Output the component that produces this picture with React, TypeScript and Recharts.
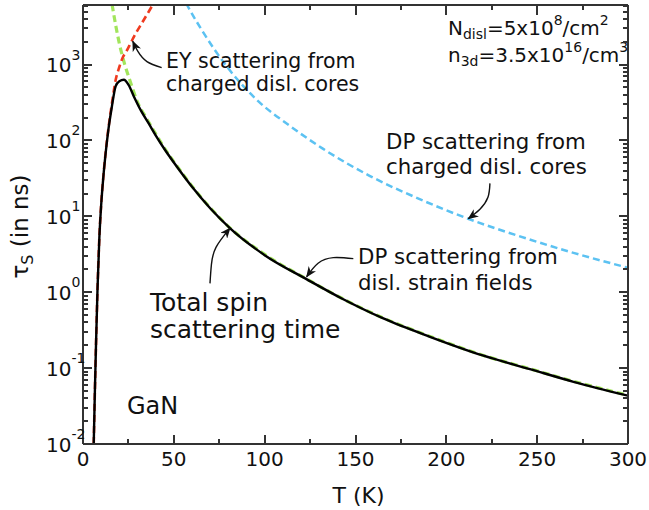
import React from 'react';
import { LineChart, Line, XAxis, YAxis, ReferenceDot, Customized } from 'recharts';

const FONT = '"DejaVu Sans", Verdana, sans-serif';
const AXIS = '#333333';
const INK = '#111111';
const BLUE = '#5cc2f2';
const GREEN = '#a2e55c';
const RED = '#ef3a1f';

// ---- data ----
// DP scattering from charged dislocation cores
const dpCoresT = [54, 57, 65, 79, 95, 114, 132, 158, 185, 212, 240, 270, 300];
const dpCoresTau = [8700, 6300, 2950, 955, 355, 155, 78, 34, 17, 9.3, 5.5, 3.3, 2.1];

// DP scattering from dislocation strain fields
const dpStrainT = [15, 16, 18, 20, 23, 26, 30, 35, 40, 45, 52, 60, 70, 81, 100, 123, 143, 165, 191, 220, 246, 270, 300];
const dpStrainTau = [8700, 6200, 3300, 1900, 1000, 600, 320, 195, 122, 78, 45, 25, 13, 7.0, 3.15, 1.5, 0.82, 0.46, 0.262, 0.148, 0.098, 0.067, 0.044];

// EY scattering from charged dislocation cores
const eyCoresT = [5.9, 6.5, 7.2, 8.0, 9.0, 10.0, 11.2, 12.5, 14.0, 15.8, 18, 20, 22, 24, 26.6, 29, 32, 35, 38.5, 42];
const eyCoresTau = [0.01, 0.045, 0.224, 1.13, 5.3, 14.3, 33.5, 71, 145, 295, 630, 930, 1260, 1510, 2000, 2570, 3390, 4470, 6170, 8300];

// Total spin scattering time
const totalT = [5.6, 5.9, 6.5, 7.2, 8.0, 9.0, 10.0, 11.2, 12.5, 14.0, 15.8, 18, 20, 22.5, 25, 28, 32, 36, 40, 45, 52, 60, 70, 81, 100, 123, 143, 165, 191, 220, 246, 270, 300];
const totalTau = [0.0048, 0.01, 0.045, 0.224, 1.12, 5.2, 14.1, 33, 69, 140, 270, 520, 605, 632, 545, 380, 245, 170, 117, 76, 44, 24.5, 12.8, 6.95, 3.08, 1.49, 0.815, 0.455, 0.259, 0.147, 0.097, 0.066, 0.0433];

// annotation arrows (T, tau)
const arrowEYT = [43.3, 35.2, 30.3, 27.4];
const arrowEYTau = [912, 1096, 1480, 2030];
const arrowCoresT = [224, 222.9, 218.5, 212.1];
const arrowCoresTau = [27.2, 17.8, 12.4, 9.33];
const arrowStrainT = [148.8, 137.8, 129.4, 123.1];
const arrowStrainTau = [2.77, 2.86, 2.41, 1.6];
const arrowTotalT = [69.9, 70.7, 73.2, 80.9];
const arrowTotalTau = [1.31, 2.33, 3.91, 7.0];

// ticks
const xMajorTicks = [0, 50, 100, 150, 200, 250, 300];
const xMinorTicks = [25, 75, 125, 175, 225, 275];
const yMajorTicks = [0.01, 0.1, 1, 10, 100, 1000];
const yMinorMultipliers = [2, 3, 4, 5, 6, 7, 8, 9];
const Y_MAX = 6100;

const xTicksAll = [...xMajorTicks, ...xMinorTicks].sort((a, b) => a - b);
const yMinorTicks = yMajorTicks
  .flatMap((d) => yMinorMultipliers.map((m) => Number((d * m).toPrecision(3))))
  .filter((v) => v <= Y_MAX);
const yTicksAll = [...yMajorTicks, ...yMinorTicks].sort((a, b) => a - b);

const zip = (ts: number[], vs: number[]) => ts.map((t, i) => ({ T: t, tau: vs[i] }));

const dpCores = zip(dpCoresT, dpCoresTau);
const dpStrain = zip(dpStrainT, dpStrainTau);
const eyCores = zip(eyCoresT, eyCoresTau);
const total = zip(totalT, totalTau);
const arrowEY = zip(arrowEYT, arrowEYTau);
const arrowCores = zip(arrowCoresT, arrowCoresTau);
const arrowStrain = zip(arrowStrainT, arrowStrainTau);
const arrowTotal = zip(arrowTotalT, arrowTotalTau);

const isMajorX = (v: number) => v % 50 === 0;
const isMajorY = (v: number) => Math.abs(Math.log10(v) - Math.round(Math.log10(v))) < 1e-6;

const TW = 2; // tick thickness (px), snapped to the pixel grid

function vTick(x: number, yFrom: number, len: number) {
  const top = len >= 0 ? yFrom : yFrom + len;
  return <rect x={Math.round(x) - TW / 2} y={Math.round(top)} width={TW} height={Math.abs(len)} fill={AXIS} shapeRendering="crispEdges" />;
}
function hTick(xFrom: number, y: number, len: number) {
  const left = len >= 0 ? xFrom : xFrom + len;
  return <rect x={Math.round(left)} y={Math.round(y) - TW / 2} width={Math.abs(len)} height={TW} fill={AXIS} shapeRendering="crispEdges" />;
}

function BottomTick(props: any) {
  const { x, y, payload } = props;
  const v = payload.value;
  const major = isMajorX(v);
  const axisY = y - 8;
  return (
    <g>
      {vTick(x, axisY, -(major ? 9 : 5))}
      {major && (
        <text x={x} y={y} dy="0.71em" textAnchor="middle" fontFamily={FONT} fontSize={20} fill={INK}>
          {v}
        </text>
      )}
    </g>
  );
}

function TopTick(props: any) {
  const { x, y, payload } = props;
  const major = isMajorX(payload.value);
  return vTick(x, y, major ? 10 : 5);
}

function LeftTick(props: any) {
  const { x, y, payload } = props;
  const v = payload.value;
  const major = isMajorY(v);
  const axisX = x + 8;
  const e = Math.round(Math.log10(v));
  return (
    <g>
      {hTick(axisX, y, major ? 9 : 5)}
      {major && (
        <text x={x - 29} y={y + 7.5} fontFamily={FONT} fontSize={20} fill={INK}>
          10
          <tspan dy={-12.5} fontSize={14}>
            {String(e)}
          </tspan>
        </text>
      )}
    </g>
  );
}

function RightTick(props: any) {
  const { x, y, payload } = props;
  const major = isMajorY(payload.value);
  return hTick(x, y, -(major ? 9 : 5));
}

function XLabel(props: any) {
  const vb = props.viewBox || { x: 0, y: 0, width: 0, height: 0 };
  return (
    <text x={vb.x + vb.width / 2 + 3} y={vb.y + 59} textAnchor="middle" fontFamily={FONT} fontSize={22} fill={INK}>
      T (K)
    </text>
  );
}

function YLabel(props: any) {
  const vb = props.viewBox || { x: 0, y: 0, width: 0, height: 0 };
  const cx = vb.x + 28;
  const cy = vb.y + vb.height / 2 + 2;
  return (
    <text x={cx} y={cy} transform={`rotate(-90 ${cx} ${cy})`} textAnchor="middle" fontFamily={FONT} fontSize={23} fill={INK}>
      τ<tspan dy={5} fontSize={16}>S</tspan>
      <tspan dy={-5}> (in ns)</tspan>
    </text>
  );
}

type Seg = { t: string; k?: 'sub' | 'sup' };

function TextBlock(props: any) {
  const { viewBox, lines, size, gap } = props;
  if (!viewBox) return null;
  const x0 = viewBox.x;
  const y0 = viewBox.y;
  return (
    <g>
      {(lines as Seg[][]).map((segs, li) => {
        let cur = 0;
        return (
          <text key={li} x={x0} y={y0 + li * gap} fontFamily={FONT} fontSize={size} fill={INK}>
            {segs.map((s, si) => {
              const target = s.k === 'sub' ? 4 : s.k === 'sup' ? -10 : 0;
              const dy = target - cur;
              cur = target;
              return (
                <tspan key={si} dy={dy} fontSize={s.k ? 14 : size}>
                  {s.t}
                </tspan>
              );
            })}
          </text>
        );
      })}
    </g>
  );
}

const Defs = () => (
  <defs>
    <marker id="arrowHead" viewBox="0 0 12 10" refX="11" refY="5" markerWidth="11" markerHeight="9" orient="auto" markerUnits="userSpaceOnUse">
      <path d="M0,0 L12,5 L0,10 L3.5,5 z" fill={INK} />
    </marker>
  </defs>
);

const lineCommon = {
  xAxisId: 'b',
  yAxisId: 'l',
  dataKey: 'tau',
  dot: false,
  activeDot: false,
  isAnimationActive: false,
  legendType: 'none' as const,
};

export default function App() {
  return (
    <div style={{ position: 'absolute', left: 0, top: 0, background: '#fff' }}>
      <LineChart width={649} height={510} margin={{ top: 4, right: 20, bottom: 0, left: 0 }}>
        <Customized component={<Defs />} />
        <XAxis
          xAxisId="b"
          type="number"
          dataKey="T"
          domain={[0, 300]}
          allowDataOverflow
          ticks={xTicksAll}
          interval={0}
          tickSize={0}
          tickMargin={8}
          tickLine={false}
          tick={<BottomTick />}
          height={66}
          axisLine={{ stroke: AXIS, strokeWidth: 2 }}
          label={<XLabel />}
        />
        <XAxis
          xAxisId="t"
          orientation="top"
          type="number"
          dataKey="T"
          domain={[0, 300]}
          allowDataOverflow
          ticks={xTicksAll}
          interval={0}
          tickSize={0}
          tickMargin={0}
          tickLine={false}
          tick={<TopTick />}
          height={1}
          axisLine={{ stroke: AXIS, strokeWidth: 2 }}
        />
        <YAxis
          yAxisId="l"
          type="number"
          scale="log"
          domain={[0.01, Y_MAX]}
          allowDataOverflow
          ticks={yTicksAll}
          interval={0}
          tickSize={0}
          tickMargin={8}
          tickLine={false}
          tick={<LeftTick />}
          width={83}
          axisLine={{ stroke: AXIS, strokeWidth: 2 }}
          label={<YLabel />}
        />
        <YAxis
          yAxisId="r"
          orientation="right"
          type="number"
          scale="log"
          domain={[0.01, Y_MAX]}
          allowDataOverflow
          ticks={yTicksAll}
          interval={0}
          tickSize={0}
          tickMargin={0}
          tickLine={false}
          tick={<RightTick />}
          width={1}
          axisLine={{ stroke: AXIS, strokeWidth: 2 }}
        />

        <Line {...lineCommon} data={dpCores} type="monotone" stroke={BLUE} strokeWidth={2.5} strokeDasharray="7 4" />
        <Line {...lineCommon} data={dpStrain} type="monotone" stroke={GREEN} strokeWidth={3.2} strokeDasharray="7 4" />
        <Line {...lineCommon} data={eyCores} type="monotone" stroke={RED} strokeWidth={2.6} strokeDasharray="7 4" />
        <Line {...lineCommon} data={total} type="monotone" stroke="#000" strokeWidth={2.4} />

        <Line {...lineCommon} data={arrowEY} type="natural" stroke={INK} strokeWidth={1.4} markerEnd="url(#arrowHead)" />
        <Line {...lineCommon} data={arrowCores} type="natural" stroke={INK} strokeWidth={1.4} markerEnd="url(#arrowHead)" />
        <Line {...lineCommon} data={arrowStrain} type="natural" stroke={INK} strokeWidth={1.4} markerEnd="url(#arrowHead)" />
        <Line {...lineCommon} data={arrowTotal} type="natural" stroke={INK} strokeWidth={1.4} markerEnd="url(#arrowHead)" />

        <ReferenceDot xAxisId="b" yAxisId="l" x={45.7} y={914} r={0} fill="none" stroke="none"
          label={<TextBlock size={20.5} gap={23} lines={[[{ t: 'EY scattering from' }], [{ t: 'charged disl. cores' }]]} />} />
        <ReferenceDot xAxisId="b" yAxisId="l" x={166.8} y={76.2} r={0} fill="none" stroke="none"
          label={<TextBlock size={21.3} gap={25} lines={[[{ t: 'DP scattering from' }], [{ t: 'charged disl. cores' }]]} />} />
        <ReferenceDot xAxisId="b" yAxisId="l" x={151.4} y={2.33} r={0} fill="none" stroke="none"
          label={<TextBlock size={21.3} gap={26} lines={[[{ t: 'DP scattering from' }], [{ t: 'disl. strain fields' }]]} />} />
        <ReferenceDot xAxisId="b" yAxisId="l" x={36.9} y={0.562} r={0} fill="none" stroke="none"
          label={<TextBlock size={25} gap={27} lines={[[{ t: 'Total spin' }], [{ t: 'scattering time' }]]} />} />
        <ReferenceDot xAxisId="b" yAxisId="l" x={24.2} y={0.0248} r={0} fill="none" stroke="none"
          label={<TextBlock size={24} gap={27} lines={[[{ t: 'GaN' }]]} />} />
        <ReferenceDot xAxisId="b" yAxisId="l" x={200.9} y={2480} r={0} fill="none" stroke="none"
          label={
            <TextBlock
              size={20}
              gap={27}
              lines={[
                [{ t: 'N' }, { t: 'disl', k: 'sub' }, { t: '=5x10' }, { t: '8', k: 'sup' }, { t: '/cm' }, { t: '2', k: 'sup' }],
                [{ t: 'n' }, { t: '3d', k: 'sub' }, { t: '=3.5x10' }, { t: '16', k: 'sup' }, { t: '/cm' }, { t: '3', k: 'sup' }],
              ]}
            />
          }
        />
      </LineChart>
    </div>
  );
}
